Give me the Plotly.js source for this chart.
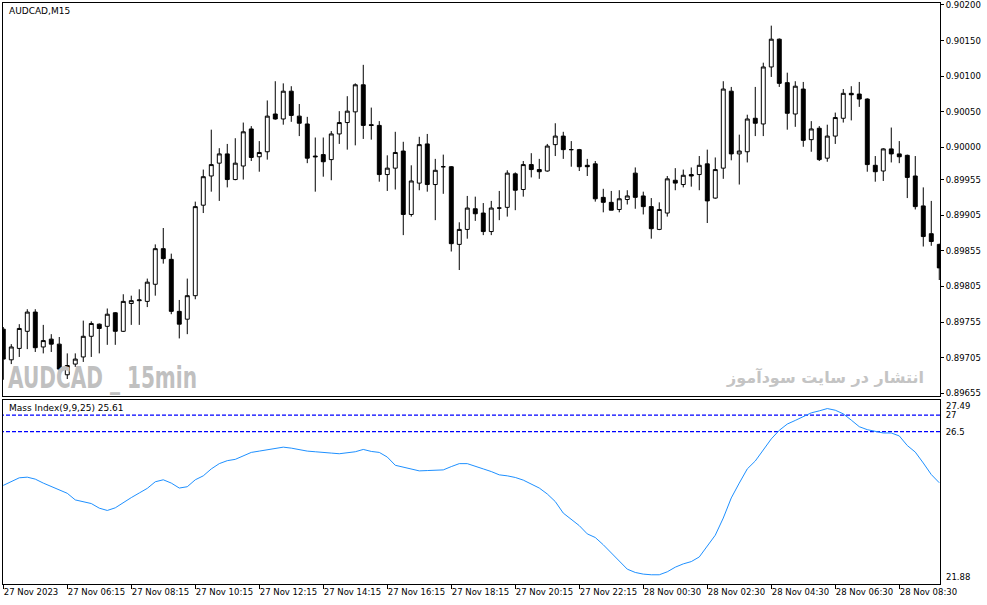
<!DOCTYPE html>
<html><head><meta charset="utf-8">
<script src="https://cdn.plot.ly/plotly-3.0.1.min.js"></script>
<style>html,body{margin:0;padding:0;background:#fff;}#chart{width:987px;height:605px;}
.shapelayer path{shape-rendering:crispEdges;}</style>
</head><body><div id="chart"></div>
<script>
// AUDCAD M15 candles (27 Nov 2023 04:15 ... 28 Nov 2023)
const open = [
0.89745,0.89702,0.89718,0.89742,0.89769,0.89720,0.89731,0.89724,0.89681,0.89696,
0.89706,0.89735,0.89752,0.89749,0.89768,0.89742,0.89781,0.89785,0.89784,0.89808,
0.89858,0.89843,0.89770,0.89759,0.89792,0.89919,0.89960,0.89978,0.89991,0.89955,
0.89974,0.90026,0.89987,0.89994,0.90047,0.90040,0.90079,0.90044,0.90033,0.89988,
0.89990,0.89983,0.90019,0.90035,0.90050,0.90088,0.90032,0.90031,0.89962,0.89971,
0.89995,0.89906,0.89950,0.90005,0.89948,0.89973,0.89973,0.89864,0.89885,0.89914,
0.89908,0.89882,0.89915,0.89916,0.89963,0.89941,0.89976,0.89969,0.89967,0.90004,
0.90016,0.89997,0.89997,0.89975,0.89977,0.89930,0.89923,0.89913,0.89927,0.89964,
0.89932,0.89917,0.89885,0.89908,0.89954,0.89948,0.89962,0.89962,0.89977,0.89929,
0.89971,0.90079,0.89991,0.89994,0.90041,0.90033,0.90113,0.90152,0.90091,0.90047,
0.90082,0.90011,0.90027,0.89985,0.90016,0.90041,0.90076,0.90075,0.90068,0.89975,
0.89967,0.89998,0.89991,0.89989,0.89960,0.89918,0.89879,0.89864];
const high = [
0.89748,0.89724,0.89752,0.89773,0.89773,0.89751,0.89738,0.89734,0.89711,0.89711,
0.89757,0.89756,0.89753,0.89774,0.89769,0.89794,0.89792,0.89801,0.89816,0.89864,
0.89887,0.89851,0.89786,0.89816,0.89924,0.89969,0.90025,0.89999,0.90005,0.90013,
0.90035,0.90030,0.90009,0.90066,0.90093,0.90090,0.90086,0.90061,0.90043,0.90014,
0.90014,0.90023,0.90051,0.90072,0.90090,0.90116,0.90056,0.90037,0.89989,0.90022,
0.90008,0.89975,0.90015,0.90019,0.89984,0.89990,0.89974,0.89895,0.89932,0.89931,
0.89922,0.89925,0.89939,0.89968,0.89965,0.89981,0.89992,0.89984,0.90005,0.90034,
0.90022,0.90009,0.89998,0.89984,0.89981,0.89942,0.89939,0.89940,0.89940,0.89972,
0.89938,0.89929,0.89923,0.89960,0.89971,0.89969,0.89972,0.89988,0.89997,0.89986,
0.90093,0.90085,0.90018,0.90046,0.90085,0.90119,0.90171,0.90153,0.90105,0.90093,
0.90092,0.90037,0.90030,0.90032,0.90049,0.90082,0.90086,0.90092,0.90069,0.89988,
0.89999,0.90028,0.90009,0.89990,0.89988,0.89944,0.89925,0.89865];
const low = [
0.89674,0.89696,0.89706,0.89717,0.89713,0.89711,0.89713,0.89685,0.89675,0.89692,
0.89699,0.89706,0.89711,0.89723,0.89723,0.89741,0.89751,0.89751,0.89776,0.89792,
0.89837,0.89766,0.89732,0.89738,0.89787,0.89908,0.89938,0.89925,0.89944,0.89954,
0.89955,0.89981,0.89966,0.89983,0.90039,0.90032,0.90036,0.90016,0.89978,0.89938,
0.89959,0.89954,0.90005,0.89997,0.90003,0.90012,0.90011,0.89952,0.89939,0.89941,
0.89877,0.89903,0.89940,0.89938,0.89898,0.89935,0.89854,0.89828,0.89872,0.89897,
0.89877,0.89877,0.89898,0.89903,0.89912,0.89931,0.89958,0.89956,0.89966,0.89988,
0.89984,0.89973,0.89967,0.89960,0.89924,0.89909,0.89912,0.89909,0.89920,0.89914,
0.89906,0.89872,0.89884,0.89903,0.89940,0.89944,0.89945,0.89940,0.89894,0.89928,
0.89956,0.89982,0.89948,0.89979,0.90016,0.90016,0.90099,0.90085,0.90025,0.90029,
0.90001,0.89994,0.89981,0.89980,0.90005,0.90035,0.90038,0.90057,0.89966,0.89952,
0.89953,0.89979,0.89978,0.89929,0.89913,0.89861,0.89862,0.89814];
const close = [
0.89703,0.89720,0.89746,0.89769,0.89719,0.89729,0.89724,0.89689,0.89694,0.89703,
0.89735,0.89753,0.89746,0.89766,0.89742,0.89784,0.89785,0.89786,0.89811,0.89858,
0.89844,0.89770,0.89752,0.89792,0.89917,0.89959,0.89976,0.89991,0.89955,0.89978,
0.90022,0.89986,0.89993,0.90044,0.90040,0.90079,0.90045,0.90034,0.89985,0.89987,
0.89980,0.90019,0.90035,0.90051,0.90088,0.90031,0.90031,0.89962,0.89971,0.89993,
0.89906,0.89953,0.90004,0.89948,0.89968,0.89973,0.89865,0.89885,0.89915,0.89907,
0.89882,0.89915,0.89915,0.89964,0.89940,0.89976,0.89969,0.89966,0.90002,0.90016,
0.89997,0.89997,0.89973,0.89973,0.89928,0.89923,0.89912,0.89928,0.89932,0.89930,
0.89917,0.89886,0.89913,0.89956,0.89950,0.89961,0.89960,0.89975,0.89925,0.89969,
0.90082,0.89991,0.89995,0.90040,0.90034,0.90113,0.90152,0.90090,0.90048,0.90086,
0.90010,0.90026,0.89983,0.90016,0.90042,0.90076,0.90074,0.90068,0.89976,0.89966,
0.89998,0.89991,0.89987,0.89958,0.89917,0.89875,0.89868,0.89831];
// Mass Index (9,9,25)
const massIndex = [
24.87,24.99,25.10,25.12,25.06,24.94,24.83,24.73,24.63,24.43,
24.37,24.32,24.18,24.11,24.19,24.35,24.50,24.64,24.78,24.98,
25.04,24.94,24.79,24.83,25.04,25.16,25.37,25.53,25.62,25.66,
25.77,25.87,25.91,25.95,26.00,26.03,26.00,25.95,25.91,25.89,
25.86,25.85,25.83,25.86,25.89,25.96,25.90,25.87,25.73,25.48,
25.43,25.37,25.31,25.32,25.34,25.34,25.44,25.53,25.53,25.46,
25.37,25.29,25.19,25.16,25.11,25.03,24.92,24.79,24.61,24.38,
24.03,23.85,23.65,23.40,23.29,23.07,22.82,22.60,22.33,22.23,
22.18,22.16,22.16,22.25,22.39,22.49,22.56,22.70,23.04,23.36,
23.88,24.49,24.94,25.37,25.61,25.95,26.28,26.54,26.73,26.84,
26.96,27.07,27.13,27.20,27.15,27.04,26.85,26.65,26.56,26.50,
26.46,26.46,26.37,26.08,25.88,25.55,25.20,24.95];
const massLevels = [27, 26.5];
const massEdgeLabels = [27.49, 21.88];
const priceTicks = [0.90200,0.90150,0.90100,0.90050,0.90000,0.89955,0.89905,0.89855,0.89805,0.89755,0.89705,0.89655];
const timeTickBars = [0,8,16,24,32,40,48,56,64,72,80,88,96,104,112];
const timeTickLabels = ['27 Nov 2023','27 Nov 06:15','27 Nov 08:15','27 Nov 10:15','27 Nov 12:15','27 Nov 14:15','27 Nov 16:15','27 Nov 18:15','27 Nov 20:15','27 Nov 22:15','28 Nov 00:30','28 Nov 02:30','28 Nov 04:30','28 Nov 06:30','28 Nov 08:30'];

const barIndex = open.map((_, i) => i);
const FONT = 'DejaVu Sans, Tahoma, sans-serif';
const W = 987, H = 605, ML = 2, MR = 47, MT = 2, MB = 21;
const plotW = W - ML - MR, plotH = H - MT - MB;
const py = (y) => (H - MB - y) / plotH;   // pixel -> paper y
const pxx = (x) => (x - ML) / plotW;      // pixel -> paper x
const mainBottom = py(396), subTop = py(399);
const WM_LEFT = 8, WM_WIDTH = 189;
const X_RANGE = [-0.16, 117.09];

const traces = [
  {type:'candlestick', x:barIndex, open:open, high:high, low:low, close:close,
   xaxis:'x', yaxis:'y', hoverinfo:'skip', whiskerwidth:0,
   increasing:{line:{color:'#000', width:1}, fillcolor:'#fff'},
   decreasing:{line:{color:'#000', width:1}, fillcolor:'#000'}}
];
// level lines of the Mass Index window
massLevels.forEach(v => traces.push({type:'scatter', mode:'lines', x:[X_RANGE[0] - 1, X_RANGE[1] + 1], y:[v, v],
  xaxis:'x', yaxis:'y2', line:{color:'#0000ff', width:1.2, dash:'4px,2px'}, hoverinfo:'skip', cliponaxis:true}));
traces.push({type:'scatter', mode:'lines', x:barIndex, y:massIndex, xaxis:'x', yaxis:'y2',
   line:{color:'#1E90FF', width:1}, hoverinfo:'skip'});

const shapes = [
  {type:'rect', xref:'paper', yref:'paper', x0:0, x1:1, y0:mainBottom, y1:1, line:{color:'#000', width:1}, layer:'above'},
  {type:'rect', xref:'paper', yref:'paper', x0:0, x1:1, y0:0, y1:subTop, line:{color:'#000', width:1}, layer:'above'}
];

const annotations = [
  {xref:'paper', yref:'paper', x:pxx(7), y:py(11), xanchor:'left', yanchor:'middle', showarrow:false,
   text:'AUDCAD,M15', font:{family:FONT, size:9, color:'#000'}},
  {xref:'paper', yref:'paper', x:pxx(7), y:py(408), xanchor:'left', yanchor:'middle', showarrow:false,
   text:'Mass Index(9,9,25) 25.61', font:{family:FONT, size:9, color:'#000'}},
  {xref:'paper', yref:'paper', x:pxx(WM_LEFT), y:py(378), xanchor:'left', yanchor:'middle', showarrow:false,
   text:'<b>AUDCAD _ 15min</b>', font:{family:'DejaVu Sans, sans-serif', size:30, color:'#c0c0c0'}},
  {xref:'paper', yref:'paper', x:pxx(926), y:py(377), xanchor:'right', yanchor:'middle', showarrow:false,
   text:'<b>انتشار در سایت سودآموز</b>', font:{family:'DejaVu Sans, sans-serif', size:16, color:'#c4c4c4'}},
  {xref:'paper', yref:'y2', x:1, y:massEdgeLabels[0], xanchor:'left', yanchor:'top', xshift:4, showarrow:false,
   text:String(massEdgeLabels[0]), font:{family:FONT, size:8.5, color:'#000'}},
  {xref:'paper', yref:'y2', x:1, y:massEdgeLabels[1], xanchor:'left', yanchor:'bottom', xshift:4, showarrow:false,
   text:String(massEdgeLabels[1]), font:{family:FONT, size:8.5, color:'#000'}}
];

const layout = {
  width:W, height:H, margin:{l:ML, r:MR, t:MT, b:MB, pad:0},
  paper_bgcolor:'#fff', plot_bgcolor:'#fff', showlegend:false,
  font:{family:FONT, size:8.5, color:'#000'},
  xaxis:{type:'linear', range:X_RANGE, anchor:'y2', showgrid:false, zeroline:false,
    rangeslider:{visible:false}, tickvals:timeTickBars, ticktext:timeTickLabels, tickangle:0,
    ticks:'outside', ticklen:4, tickcolor:'#000', ticklabelposition:'outside right', ticklabeloverflow:'allow',
    tickfont:{family:FONT, size:8.5, color:'#000'}, fixedrange:true},
  yaxis:{domain:[mainBottom, 1], range:[0.896512, 0.902042], side:'right', anchor:'x',
    showgrid:false, zeroline:false, tickvals:priceTicks, tickformat:'.5f', ticklabeloverflow:'allow',
    ticks:'outside', ticklen:3, tickcolor:'#000',
    tickfont:{family:FONT, size:8.5, color:'#000'}, fixedrange:true},
  yaxis2:{domain:[0, subTop], range:[21.88, 27.49], side:'right', anchor:'x',
    showgrid:false, zeroline:false, tickvals:massLevels, ticktext:massLevels.map(String),
    ticks:'outside', ticklen:3, tickcolor:'#fff',
    tickfont:{family:FONT, size:8.5, color:'#000'}, fixedrange:true},
  shapes:shapes, annotations:annotations
};
Plotly.newPlot('chart', traces, layout, {displayModeBar:false, staticPlot:true}).then(gd => {
  // condense the latin watermark to the reference's narrow width, keeping its left edge
  const divBox = gd.getBoundingClientRect();
  gd.querySelectorAll('text.annotation-text').forEach(t => {
    if (t.textContent === 'AUDCAD _ 15min') {
      t.setAttribute('textLength', String(WM_WIDTH));
      t.setAttribute('lengthAdjust', 'spacingAndGlyphs');
      const b = t.getBoundingClientRect();
      const dx = WM_LEFT - (b.left - divBox.left);
      const prev = t.getAttribute('transform') || '';
      t.setAttribute('transform', 'translate(' + dx + ',0) ' + prev);
    }
  });
});
</script></body></html>
